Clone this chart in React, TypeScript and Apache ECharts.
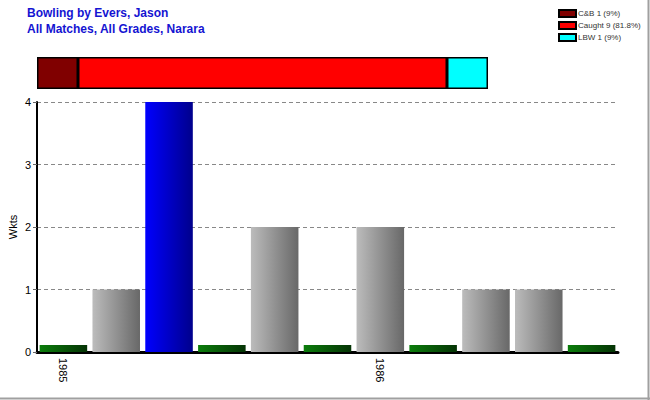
import React, { useEffect, useRef } from "react";
import * as echarts from "echarts";

const matchIds = ["1", "2", "3", "4", "5", "6", "7", "8", "9", "10", "11"];
const yearLabels = ["1985", "", "", "", "", "", "1986", "", "", "", ""];
const wickets = [0, 1, 4, 0, 2, 0, 2, 0, 1, 1, 0];
const yTicks = [0, 1, 2, 3, 4];

const dismissalTypes = ["C&B", "Caught", "LBW"];
const dismissalCounts = [1, 9, 1];
const dismissalPct = ["9%", "81.8%", "9%"];
const dismissalColors = ["#800000", "#ff0000", "#00ffff"];

const FONT = "Liberation Sans, Arial, sans-serif";

function grad(c1: string, c2: string) {
  return new echarts.graphic.LinearGradient(0, 0, 1, 0, [
    { offset: 0, color: c1 },
    { offset: 1, color: c2 },
  ]);
}

export default function App() {
  const ref = useRef<HTMLDivElement>(null);
  useEffect(() => {
    if (!ref.current) return;
    const chart = echarts.init(ref.current, null, { renderer: "svg" });
    const maxW = Math.max(...wickets);
    const barData = wickets.map((v) => {
      let color;
      if (v === 0) color = grad("#0b7d0b", "#053305");
      else if (v === maxW) color = grad("#0000ff", "#00008c");
      else color = grad("#bcbcbc", "#686868");
      return { value: v, itemStyle: { color } };
    });
    const total = dismissalCounts.reduce((a, b) => a + b, 0);
    const stackSeries = dismissalTypes.map((t, i) => ({
      name: `${t} ${dismissalCounts[i]} (${dismissalPct[i]})`,
      type: "bar",
      stack: "d",
      xAxisIndex: 1,
      yAxisIndex: 1,
      barWidth: "100%",
      data: [dismissalCounts[i]],
      itemStyle: { color: dismissalColors[i], borderColor: "#000", borderWidth: 1.5 },
      silent: true,
    }));
    chart.setOption({
      animation: false,
      backgroundColor: "#fff",
      title: {
        text: "Bowling by Evers, Jason\nAll Matches, All Grades, Narara",
        left: 22,
        top: 0,
        textStyle: {
          fontFamily: FONT,
          fontSize: 12,
          fontWeight: "bold",
          color: "#1414d2",
          lineHeight: 16,
        },
      },
      legend: {
        data: stackSeries.map((s) => s.name),
        orient: "vertical",
        left: 553,
        top: 4,
        itemWidth: 17,
        itemHeight: 7,
        itemGap: 3,
        icon: "rect",
        selectedMode: false,
        textStyle: { fontFamily: FONT, fontSize: 8, color: "#333", padding: [0, 0, 0, -3] },
      },
      grid: [
        { left: 37, right: 32, top: 102, bottom: 48, outerBoundsMode: "none" },
        { left: 37, top: 57, width: 451, height: 32, outerBoundsMode: "none" },
      ],
      xAxis: [
        {
          type: "category",
          data: matchIds,
          gridIndex: 0,
          axisLine: { lineStyle: { color: "#000", width: 3 } },
          axisTick: { alignWithLabel: true, length: 5, lineStyle: { color: "#666" } },
          axisLabel: {
            formatter: (_v: string, i: number) => yearLabels[i],
            rotate: -90,
            interval: 0,
            fontFamily: FONT,
            fontSize: 11,
            color: "#000",
            margin: 6,
          },
        },
        { type: "value", gridIndex: 1, min: 0, max: total, show: false },
      ],
      yAxis: [
        {
          type: "value",
          gridIndex: 0,
          min: yTicks[0],
          max: yTicks[yTicks.length - 1],
          interval: 1,
          name: "Wkts",
          nameLocation: "middle",
          nameGap: 19,
          nameRotate: 90,
          nameMoveOverlap: false,
          nameTextStyle: { fontFamily: FONT, fontSize: 11, color: "#000" },
          axisLine: { show: true, lineStyle: { color: "#000", width: 2 } },
          axisTick: { show: true, length: 4, lineStyle: { color: "#666" } },
          axisLabel: { fontFamily: FONT, fontSize: 11, color: "#000", margin: 6 },
          splitLine: { lineStyle: { color: "#888", type: [4, 3], width: 1 } },
        },
        { type: "category", gridIndex: 1, data: ["d"], show: false },
      ],
      series: [
        {
          type: "bar",
          xAxisIndex: 0,
          yAxisIndex: 0,
          barCategoryGap: "10%",
          barMinHeight: 7,
          data: barData,
          silent: true,
        },
        ...stackSeries,
      ],
      graphic: [
        { type: "line", shape: { x1: 648.5, y1: 0, x2: 648.5, y2: 400 }, style: { stroke: "#a0a0a0", lineWidth: 2 } },
        { type: "line", shape: { x1: 0, y1: 398.5, x2: 650, y2: 398.5 }, style: { stroke: "#a0a0a0", lineWidth: 2 } },
      ],
    });
    return () => chart.dispose();
  }, []);
  return (
    <div
      ref={ref}
      style={{ position: "fixed", left: 0, top: 0, width: 650, height: 400 }}
    />
  );
}
